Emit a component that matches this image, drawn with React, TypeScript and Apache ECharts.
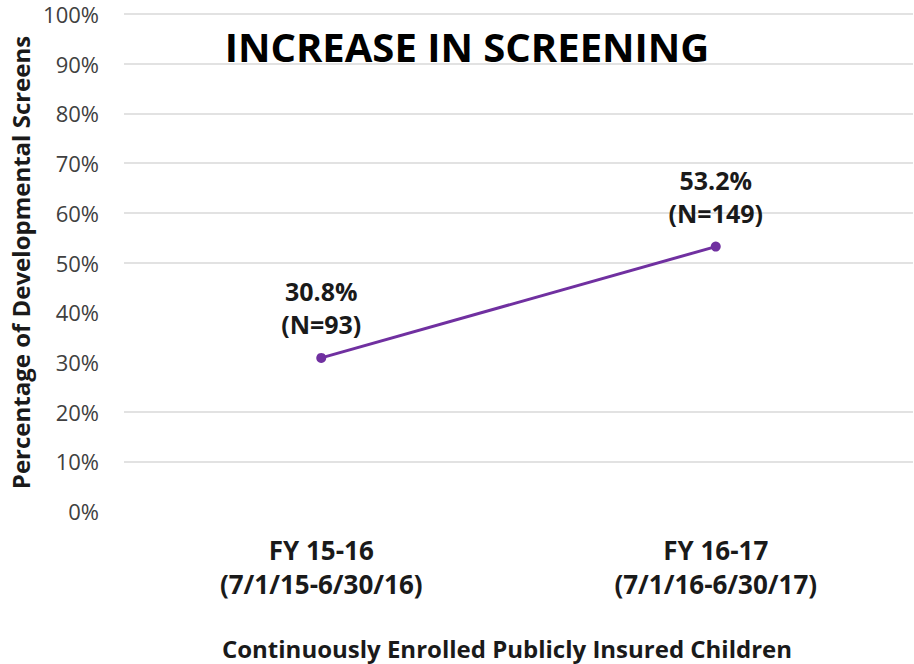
import React, { useEffect, useRef } from "react";
import * as echarts from "echarts";

const categories = ["FY 15-16\n(7/1/15-6/30/16)", "FY 16-17\n(7/1/16-6/30/17)"];
const screeningPct = [30.8, 53.2];
const sampleN = [93, 149];
const gridValues = [10, 20, 50, 60, 70, 80, 90, 100];
const titleText = "INCREASE IN SCREENING";
const yAxisTitle = "Percentage of Developmental Screens";
const xAxisTitle = "Continuously Enrolled Publicly Insured Children";

const FONT = "'Open Sans', 'Noto Sans', sans-serif";

export default function App() {
  const ref = useRef<HTMLDivElement>(null);
  useEffect(() => {
    if (!ref.current) return;
    const chart = echarts.init(ref.current, null, { renderer: "svg" });
    chart.setOption({
      animation: false,
      backgroundColor: "#ffffff",
      grid: { left: 122, right: 1, top: 14, bottom: 153, containLabel: false },
      graphic: [
        {
          type: "text",
          x: 467,
          y: 46,
          z: 10,
          style: {
            text: titleText,
            font: `bold 40px ${FONT}`,
            fill: "#000000",
            textAlign: "center",
            textVerticalAlign: "middle",
          },
        },
        {
          type: "text",
          x: 507,
          y: 648,
          style: {
            text: xAxisTitle,
            font: `bold 24px ${FONT}`,
            fill: "#1a1a1a",
            textAlign: "center",
            textVerticalAlign: "middle",
          },
        },
      ],
      xAxis: {
        type: "category",
        data: categories,
        boundaryGap: true,
        axisLine: { show: false },
        axisTick: { show: false },
        axisLabel: {
          margin: 22,
          fontFamily: FONT,
          fontWeight: "bold",
          fontSize: 26,
          lineHeight: 34,
          color: "#1a1a1a",
        },
      },
      yAxis: {
        type: "value",
        min: 0,
        max: 100,
        interval: 10,
        name: yAxisTitle,
        nameLocation: "middle",
        nameGap: 92,
        nameTextStyle: {
          fontFamily: FONT,
          fontWeight: "bold",
          fontSize: 24,
          color: "#1a1a1a",
        },
        axisLine: { show: false },
        axisTick: { show: false },
        splitLine: { show: false },
        axisLabel: {
          margin: 25,
          formatter: "{value}%",
          fontFamily: FONT,
          fontSize: 22,
          color: "#404040",
        },
      },
      series: [
        {
          type: "line",
          data: screeningPct,
          symbol: "circle",
          symbolSize: 10,
          lineStyle: { color: "#7030A0", width: 3 },
          itemStyle: { color: "#7030A0" },
          label: {
            show: true,
            position: "top",
            distance: 12,
            fontFamily: FONT,
            fontWeight: "bold",
            fontSize: 25,
            lineHeight: 33,
            color: "#1a1a1a",
            formatter: (p: any) =>
              `${screeningPct[p.dataIndex].toFixed(1)}%\n(N=${sampleN[p.dataIndex]})`,
          },
          markLine: {
            silent: true,
            symbol: "none",
            z: 0,
            label: { show: false },
            lineStyle: { color: "#d9d9d9", width: 1.5, type: "solid" },
            data: gridValues.map((v) => ({ yAxis: v })),
          },
          z: 3,
        },
      ],
    });
    return () => chart.dispose();
  }, []);
  return (
    <div
      ref={ref}
      style={{ position: "fixed", left: 0, top: 0, width: 914, height: 664 }}
    />
  );
}
